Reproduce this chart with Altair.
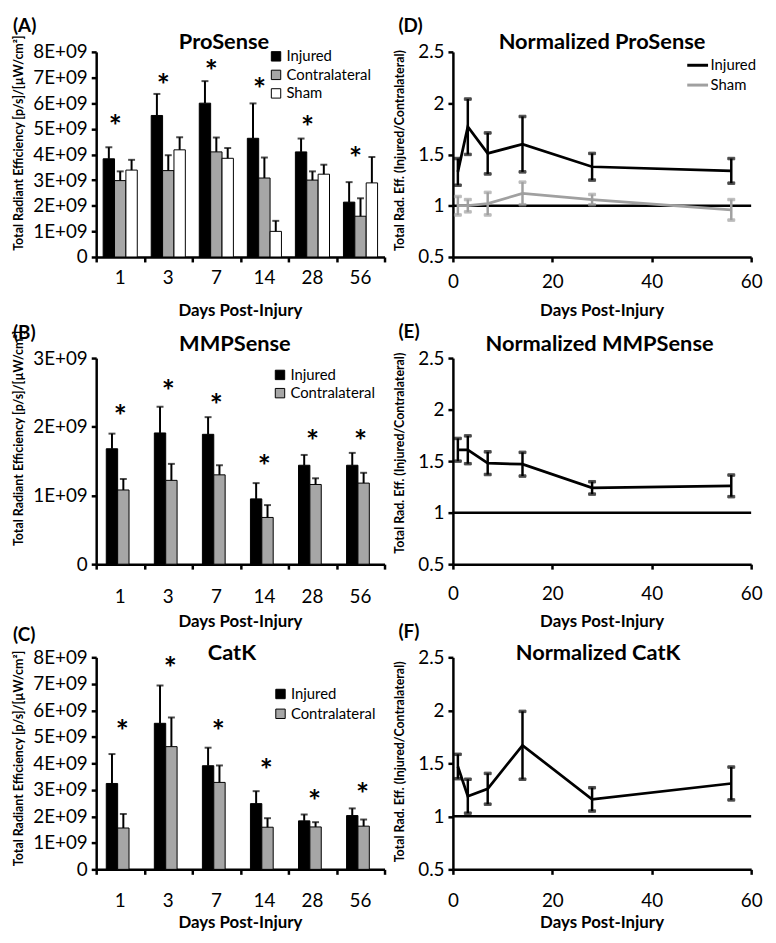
import altair as alt
import pandas as pd

FONT = "Lato"

# ---------------- data ----------------
day_labels = ["1", "3", "7", "14", "28", "56"]
day_values = [1, 3, 7, 14, 28, 56]

# (A) ProSense  (values in units of 1E+09)
pro_injured = [3.83, 5.52, 6.00, 4.63, 4.10, 2.14]
pro_injured_sem = [0.45, 0.84, 0.86, 1.36, 0.52, 0.78]
pro_contra = [2.98, 3.37, 4.10, 3.08, 3.00, 1.59]
pro_contra_sem = [0.36, 0.60, 0.56, 0.80, 0.34, 0.70]
pro_sham = [3.39, 4.18, 3.85, 1.00, 3.23, 2.89]
pro_sham_sem = [0.40, 0.49, 0.40, 0.41, 0.37, 1.01]
pro_star = [5.26, 6.85, 7.40, 6.70, 5.24, 4.00]

# (B) MMPSense
mmp_injured = [1.68, 1.91, 1.89, 0.95, 1.44, 1.44]
mmp_injured_sem = [0.22, 0.38, 0.25, 0.23, 0.15, 0.18]
mmp_contra = [1.08, 1.22, 1.30, 0.68, 1.16, 1.18]
mmp_contra_sem = [0.16, 0.24, 0.14, 0.18, 0.09, 0.15]
mmp_star = [2.21, 2.57, 2.38, 1.48, 1.85, 1.85]

# (C) CatK
catk_injured = [3.24, 5.51, 3.91, 2.48, 1.83, 2.03]
catk_injured_sem = [1.11, 1.43, 0.68, 0.47, 0.24, 0.27]
catk_contra = [1.56, 4.63, 3.28, 1.59, 1.60, 1.63]
catk_contra_sem = [0.53, 1.10, 0.64, 0.34, 0.18, 0.25]
catk_star = [5.35, 7.75, 5.35, 3.91, 2.72, 2.98]

# (D) Normalized ProSense
npro_injured = [1.33, 1.77, 1.51, 1.60, 1.38, 1.34]
npro_injured_sem = [0.13, 0.27, 0.20, 0.27, 0.13, 0.12]
npro_sham = [1.00, 1.00, 1.02, 1.12, 1.06, 0.96]
npro_sham_sem = [0.09, 0.06, 0.11, 0.11, 0.05, 0.10]

# (E) Normalized MMPSense
nmmp = [1.61, 1.61, 1.48, 1.47, 1.24, 1.26]
nmmp_sem = [0.11, 0.135, 0.11, 0.115, 0.06, 0.105]

# (F) Normalized CatK
ncatk = [1.47, 1.19, 1.26, 1.67, 1.16, 1.31]
ncatk_sem = [0.115, 0.16, 0.145, 0.32, 0.11, 0.155]

bar_series3 = ["Injured", "Contralateral", "Sham"]
bar_colors3 = ["#000000", "#A6A6A6", "#FFFFFF"]
bar_series2 = ["Injured", "Contralateral"]
bar_colors2 = ["#000000", "#A6A6A6"]
line_series = ["Injured", "Sham"]
line_colors = ["#000000", "#A0A0A0"]

one = pd.DataFrame({"a": [0]})


def bar_frame(series):
    rows = []
    for name, vals, sems in series:
        for d, v, s in zip(day_labels, vals, sems):
            rows.append({"day": d, "series": name, "value": v * 1e9, "top": (v + s) * 1e9})
    return pd.DataFrame(rows)


def star_frame(stars):
    return pd.DataFrame({"day": day_labels, "star": [s * 1e9 for s in stars]})


def line_frame(series):
    rows = []
    for name, vals, sems in series:
        for d, v, s in zip(day_values, vals, sems):
            rows.append({"day": d, "series": name, "value": v, "lo": v - s, "hi": v + s})
    return pd.DataFrame(rows)


def txt(text, x, y, size, bold=True, align="center", baseline="alphabetic", angle=0):
    return alt.Chart(one).mark_text(
        text=text, font=FONT, fontSize=size, fontWeight="bold" if bold else "normal",
        align=align, baseline=baseline, angle=angle, color="black"
    ).encode(x=alt.value(x), y=alt.value(y))


def y_axis(values, fmt=None, expr=None):
    kw = dict(values=values, title=None, grid=False, tickSize=5, tickWidth=2.5, tickColor="black",
              domainColor="black", domainWidth=2.5, labelFont=FONT, labelFontSize=19,
              labelColor="black", labelPadding=4)
    if fmt:
        kw["format"] = fmt
    if expr:
        kw["labelExpr"] = expr
    return alt.Axis(**kw)


def bar_panel(df, stars, series, colors, ymax, width, height, yrange, pad, star_dx, label_pad,
              letter, title, title_x, title_y, letter_y, ytitle_y, xtitle_y, leg_x, leg_y, leg_row):
    sc = {"domain": [0, ymax * 1e9], "nice": False}
    if yrange:
        sc["range"] = yrange
    yscale = alt.Scale(**sc)
    yax = y_axis([i * 1e9 for i in range(ymax + 1)],
                 expr="datum.value == 0 ? '0' : format(datum.value / 1e9, 'd') + 'E+09'")
    x_enc = alt.X("day:N", sort=day_labels,
                  scale=alt.Scale(paddingInner=pad, paddingOuter=pad / 2),
                  axis=alt.Axis(orient="bottom", title=None, ticks=False, tickSize=0,
                                labelPadding=label_pad, labelFontSize=19, labelFont=FONT,
                                labelColor="black", labelAngle=0, domain=True, domainColor="black",
                                domainWidth=2.5, grid=False))
    xo = alt.XOffset("series:N", sort=series, scale=alt.Scale(domain=series))
    base = alt.Chart(df)
    bars = base.mark_bar(stroke="black", strokeWidth=1).encode(
        x=x_enc, xOffset=xo,
        y=alt.Y("value:Q", scale=yscale, axis=yax),
        fill=alt.Fill("series:N", sort=series, scale=alt.Scale(domain=series, range=colors),
                      legend=alt.Legend(orient="none", legendX=leg_x, legendY=leg_y, title=None,
                                        symbolType="square", symbolSize=90,
                                        symbolStrokeColor="black", symbolStrokeWidth=1,
                                        labelFont=FONT, labelFontSize=15, labelColor="black",
                                        rowPadding=leg_row, padding=0, labelOffset=3)),
    )
    err = base.mark_rule(color="black", strokeWidth=2).encode(
        x=x_enc, xOffset=xo,
        y=alt.Y("value:Q", scale=yscale, axis=yax), y2="top:Q")
    caps = base.mark_tick(color="black", thickness=2, size=7).encode(
        x=x_enc, xOffset=xo,
        y=alt.Y("top:Q", scale=yscale, axis=yax))
    st = alt.Chart(star_frame(stars)).mark_text(
        text="*", font=FONT, fontSize=31, fontWeight="bold", color="black", baseline="middle",
        dy=6, dx=star_dx
    ).encode(x=x_enc, y=alt.Y("star:Q", scale=yscale, axis=yax))
    inner = alt.layer(bars, err, caps, st)
    ticks = alt.Chart(one).mark_point(opacity=0).encode(
        x=alt.X("a:Q", scale=alt.Scale(domain=[0, 6], nice=False, zero=False),
                axis=alt.Axis(orient="bottom", values=list(range(7)), labels=False, domain=False,
                              ticks=True, tickSize=5, tickWidth=2.5, tickColor="black",
                              grid=False, title=None)))
    ann = [
        txt(title, title_x, title_y, 22),
        txt(letter, -84, letter_y, 19, align="left", baseline="top"),
        txt("Total Radiant Efficiency [p/s]/[µW/cm²]", -84, ytitle_y, 12.5, baseline="top", angle=270),
        txt("Days Post-Injury", width / 2, xtitle_y, 17, baseline="middle"),
    ]
    return alt.layer(inner, ticks, *ann).resolve_scale(x="independent").resolve_axis(
        x="independent").properties(width=width, height=height)


def line_panel(df, multi, width, height, yrange, label_pad, letter, title, title_x, title_y,
               letter_y, ytitle_y, xtitle_y, leg_x=0, leg_y=0, leg_row=3):
    sc = {"domain": [0.5, 2.5], "nice": False, "zero": False}
    if yrange:
        sc["range"] = yrange
    yscale = alt.Scale(**sc)
    yax = y_axis([0.5, 1, 1.5, 2, 2.5], fmt="~g")
    x_enc = alt.X("day:Q", scale=alt.Scale(domain=[0, 60], nice=False, zero=False),
                  axis=alt.Axis(values=[0, 20, 40, 60], title=None, grid=False, tickSize=5,
                                tickWidth=2.5, tickColor="black", domainColor="black",
                                domainWidth=2.5, labelFont=FONT, labelFontSize=19,
                                labelColor="black", labelPadding=label_pad, labelFlush=False))
    base = alt.Chart(df)
    if multi:
        col_leg = alt.Stroke("series:N", sort=line_series,
                             scale=alt.Scale(domain=line_series, range=line_colors),
                             legend=alt.Legend(orient="none", legendX=leg_x, legendY=leg_y,
                                               title=None, symbolType="stroke", symbolSize=441,
                                               symbolStrokeWidth=3, labelFont=FONT,
                                               labelFontSize=15, labelColor="black",
                                               rowPadding=leg_row, padding=0, labelOffset=1))
        col = alt.Stroke("series:N", sort=line_series,
                         scale=alt.Scale(domain=line_series, range=line_colors), legend=None)
    else:
        col_leg = alt.value("black")
        col = alt.value("black")
    ref = alt.Chart(one).mark_rule(color="black", strokeWidth=2.5).encode(
        x=alt.value(0), x2=alt.value(width), y=alt.Y(datum=1, type="quantitative", scale=yscale, axis=yax))
    line = base.mark_line(strokeWidth=2.75).encode(
        x=x_enc, y=alt.Y("value:Q", scale=yscale, axis=yax), stroke=col_leg)
    err = base.mark_rule(strokeWidth=2.5).encode(
        x=x_enc, y=alt.Y("lo:Q", scale=yscale, axis=yax), y2="hi:Q", stroke=col)
    cap_lo = base.mark_tick(orient="horizontal", thickness=2.5, size=7).encode(
        x=x_enc, y=alt.Y("lo:Q", scale=yscale, axis=yax), stroke=col, fill=col)
    cap_hi = base.mark_tick(orient="horizontal", thickness=2.5, size=7).encode(
        x=x_enc, y=alt.Y("hi:Q", scale=yscale, axis=yax), stroke=col, fill=col)
    ann = [
        txt(title, title_x, title_y, 22),
        txt(letter, -55, letter_y, 19, align="left", baseline="top"),
        txt("Total Rad. Eff. (Injured/Contralateral)", -59, ytitle_y, 12.5, baseline="top", angle=270),
        txt("Days Post-Injury", width / 2, xtitle_y, 17, baseline="middle"),
    ]
    ch = alt.layer(ref, line, err, cap_lo, cap_hi, *ann)
    if multi:
        ch = ch.resolve_legend(stroke="independent")
    return ch.properties(width=width, height=height)


LW, RW = 291, 301

A = bar_panel(bar_frame([("Injured", pro_injured, pro_injured_sem),
                         ("Contralateral", pro_contra, pro_contra_sem),
                         ("Sham", pro_sham, pro_sham_sem)]),
              pro_star, bar_series3, bar_colors3, 8, LW, 207, None, 0.29, -5, 11.3,
              "(A)", "ProSense", 129, -3, -35, 92, 262, 174, -3, 2.7)
B = bar_panel(bar_frame([("Injured", mmp_injured, mmp_injured_sem),
                         ("Contralateral", mmp_contra, mmp_contra_sem)]),
              mmp_star, bar_series2, bar_colors2, 3, LW, 216, [216, 8], 0.42, 0, 23.8,
              "(B)", "MMPSense", 140, 1, -26, 89, 274, 178, 17.5, 2.4)
C = bar_panel(bar_frame([("Injured", catk_injured, catk_injured_sem),
                         ("Contralateral", catk_contra, catk_contra_sem)]),
              catk_star, bar_series2, bar_colors2, 8, LW, 214, None, 0.42, 2, 22.8,
              "(C)", "CatK", 137, 3, -31, 102, 268, 178.5, 29.5, 4)

D = line_panel(line_frame([("Injured", npro_injured, npro_injured_sem),
                           ("Sham", npro_sham, npro_sham_sem)]),
               True, RW, 207, None, 10.8, "(D)", "Normalized ProSense", 150.5, -3, -35, 99.5, 262,
               235, 1.5, -4.1)
E = line_panel(line_frame([("Injured", nmmp, nmmp_sem)]),
               False, RW, 216, [216, 8], 15.8, "(E)", "Normalized MMPSense", 148, 1, -27, 104, 274)
F = line_panel(line_frame([("Injured", ncatk, ncatk_sem)]),
               False, RW, 214, None, 17.8, "(F)", "Normalized CatK", 146.5, 3, -34, 105.5, 268)

chart = alt.concat(A, D, B, E, C, F, columns=2, spacing={"row": 94, "column": 69},
                   bounds="flush").resolve_scale(
    fill="independent", stroke="independent"
).resolve_legend(fill="independent", stroke="independent").properties(
    padding={"left": 5, "top": 5, "right": 5, "bottom": 5}
).configure(font=FONT).configure_view(stroke=None)

chart.save("out.html", embed_options={"renderer": "svg", "actions": False})
